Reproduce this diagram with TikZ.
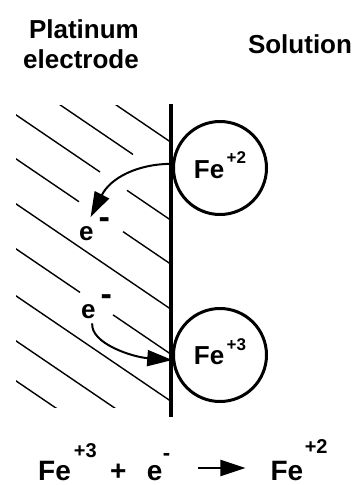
\documentclass[tikz,border=0pt]{standalone}
\usepackage{fontspec}
\setmainfont{Liberation Sans}
\usepackage{tikz}
\usetikzlibrary{arrows.meta, positioning}
\newcommand{\ionchg}[4]{\kern#1\raisebox{#2}{\fontsize{#3}{#3}\selectfont #4}}

\begin{document}
\begin{tikzpicture}[
    x=1pt, y=-1pt,
    title/.style={font=\fontsize{26}{30}\selectfont\bfseries, inner sep=0pt},
    ion/.style={circle, draw, line width=3pt, minimum size=93pt, inner sep=0pt, font=\fontsize{26}{30}\selectfont\bfseries, text depth=6pt},
    elec/.style={font=\fontsize{26}{30}\selectfont\bfseries, inner sep=0pt, anchor=base west},
    eq/.style={font=\fontsize{28}{30}\selectfont\bfseries, inner sep=0pt},
    hatch/.style={line width=1.4pt},
    arr/.style={-{Triangle[length=25pt,width=16pt]}, line width=2pt},
  ]
    \useasboundingbox (0,0) rectangle (354,485);
    \node[title, anchor=base east] (plat) at (139,38) {Platinum};
    \node[title, anchor=base east] (electr) at (139,68) {electrode};
    \node[title, anchor=base] (soln) at (300,53) {Solution};
    % electrode surface and hatching
    \begin{scope}
      \clip (16,105) rectangle (170,407);
      \foreach \c/\xa/\xb in {26/0/170, 64/0/133, 104/0/100, 104/127/170, 148/0/79, 148/123/170,
                              193/0/170, 238/0/80, 238/113/170, 285/0/170, 330/0/170, 370/0/170}
        \draw[hatch] (\xa,{\c+0.68*\xa}) -- (\xb,{\c+0.68*\xb});
    \end{scope}
    \coordinate (etop) at (171,104);
    \coordinate (ebot) at (171,417);
    \draw[line width=3.5pt] (etop) -- (ebot);
    % ions
    \node[ion] (fe2) at (220,168) {Fe\ionchg{2.5pt}{15pt}{17}{+2}};
    \node[ion] (fe3) at (220,355) {Fe\ionchg{2.5pt}{14pt}{17}{+3}};
    \node[elec] (eA) at (79,240) {e\ionchg{5pt}{12pt}{34}{-}};
    \node[elec] (eB) at (81,318) {e\ionchg{5pt}{13pt}{34}{-}};
    \draw[arr] (fe2.175) .. controls +(-35,0) and +(20,-39) .. ([xshift=-4pt]eA.north);
    \draw[arr, shorten <=5pt] ([xshift=-4pt]eB.south) .. controls +(-2,25) and +(-40,-3) .. (fe3.186);
    % reaction
    \node[eq, anchor=base west] (feL) at (38,480) {Fe\ionchg{3pt}{23pt}{20}{+3}};
    \node[eq, base right=13pt of feL] (plus) {+};
    \node[eq, base right=20pt of plus] (eC) {e\ionchg{0.5pt}{20pt}{22}{-}};
    \node[eq, base right=100pt of eC] (feR) {Fe\ionchg{1.5pt}{27pt}{20}{+2}};
    \draw[arr] ([xshift=28pt,yshift=12pt]eC.base east) -- ([xshift=-25pt,yshift=12pt]feR.base west);
  \end{tikzpicture}
\end{document}
